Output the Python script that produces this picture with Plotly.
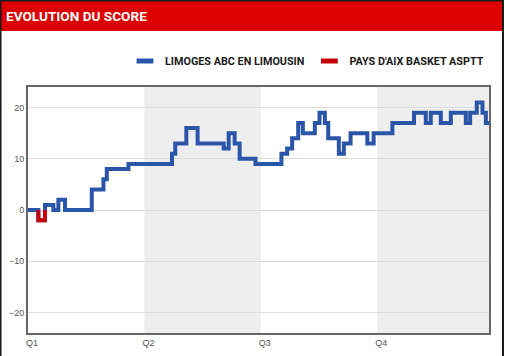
import plotly.graph_objects as go

# ---- data ----
change_times = [0, 0.89, 1.46, 2.18, 2.61, 3.18, 5.48, 6.48, 6.77, 8.63,
                12.37, 12.65, 13.60, 14.57, 16.81, 17.24, 17.75, 18.18, 19.54,
                21.77, 22.26, 22.69, 23.21, 23.61, 24.64, 25.04, 25.50, 25.79,
                26.70, 27.13, 27.71, 29.15, 29.69, 31.30, 33.16, 34.17, 34.60,
                35.46, 36.32, 37.61, 37.98, 38.55, 39.04, 39.33]
score_diff = [0, -2, 1, 0, 2, 0, 4, 6, 8, 9,
              11, 13, 16, 13, 12, 15, 13, 10, 9,
              11, 12, 14, 17, 15, 17, 19, 17, 14,
              11, 13, 15, 13, 15, 17, 19, 17, 19,
              17, 19, 17, 19, 21, 19, 17]
end_time = 39.6
quarter_starts = [0, 10, 20, 30]
quarter_labels = ["Q1", "Q2", "Q3", "Q4"]
shaded_quarters = [(10, 20), (30, 39.6)]
y_ticks = [-20, -10, 0, 10, 20]
team_home = "LIMOGES ABC EN LIMOUSIN"
team_away = "PAYS D'AIX BASKET ASPTT"

BLUE = "#2a55a8"
RED = "#c4000b"

# ---- build step path ----
px, py = [], []
for i, (t, s) in enumerate(zip(change_times, score_diff)):
    if i > 0:
        px.append(t); py.append(score_diff[i - 1])
    px.append(t); py.append(s)
px.append(end_time); py.append(score_diff[-1])

red_x, red_y = [], []
prev_in = False
for i in range(len(px) - 1):
    x0, y0, x1, y1 = px[i], py[i], px[i + 1], py[i + 1]
    if min(y0, y1) < 0:
        if not prev_in:
            red_x.append(x0); red_y.append(min(y0, 0))
        red_x.append(x1); red_y.append(min(y1, 0))
        prev_in = True
    else:
        if prev_in:
            red_x.append(None); red_y.append(None)
        prev_in = False

fig = go.Figure()
fig.add_trace(go.Scatter(x=px, y=py, mode="lines", line=dict(color=BLUE, width=4),
                         showlegend=False, hoverinfo="skip"))
fig.add_trace(go.Scatter(x=red_x, y=red_y, mode="lines", line=dict(color=RED, width=4),
                         showlegend=False, hoverinfo="skip"))
for name, col in [(team_home, BLUE), (team_away, RED)]:
    fig.add_trace(go.Scatter(x=[None], y=[None], mode="markers", name=name,
                             marker=dict(symbol="line-ew", size=12, color=col,
                                         line=dict(color=col, width=5))))

W, H = 505, 356
L, R, T, B = 28, 16, 87, 23
pw, ph = W - L - R, H - T - B

def xp(pix):
    return (pix - L) / pw

def yp(pix):
    return (H - B - pix) / ph

shapes = []
for a, b in shaded_quarters:
    shapes.append(dict(type="rect", xref="x", yref="paper", x0=a, x1=b, y0=0, y1=1,
                       fillcolor="#eeeeee", line=dict(width=0), layer="below"))
shapes.append(dict(type="rect", xref="paper", yref="paper", x0=xp(0), x1=xp(503),
                   y0=yp(31), y1=yp(0), fillcolor="#dd0000", line=dict(width=0), layer="below"))
shapes.append(dict(type="path", xref="paper", yref="paper",
                   path=f"M {xp(0.5)},{yp(360)} L {xp(0.5)},{yp(0.5)} L {xp(503)},{yp(0.5)} L {xp(503)},{yp(360)}",
                   line=dict(color="#1a1a1a", width=2)))

head = "Roboto, Liberation Sans, Arial, sans-serif"
small = "Liberation Sans, Arial, sans-serif"

fig.update_layout(
    width=W, height=H, autosize=False,
    margin=dict(l=L, r=R, t=T, b=B, pad=0),
    paper_bgcolor="white", plot_bgcolor="white",
    title=dict(text="EVOLUTION DU SCORE", x=6 / W, xanchor="left", xref="container",
               y=1 - 16 / H, yanchor="middle", yref="container",
               font=dict(family=head, size=13.6, color="white", weight="bold")),
    shapes=shapes,
    showlegend=True,
    legend=dict(orientation="h", x=1, xanchor="right", y=yp(61), yanchor="middle",
                font=dict(family=head, size=10.8, color="#1a1a1a", weight="bold"),
                bgcolor="rgba(0,0,0,0)", itemwidth=30, tracegroupgap=0),
    xaxis=dict(range=[0, end_time], tickvals=quarter_starts, ticktext=quarter_labels,
               ticklabelposition="outside right", ticklabelshift=-3, showgrid=False, zeroline=False,
               showline=True, mirror=True, linecolor="#666666", linewidth=2, automargin=False,
               ticks="", tickfont=dict(family=small, size=9, color="#555555")),
    yaxis=dict(range=[-24, 24], tickvals=y_ticks, showgrid=True, gridcolor="#dddddd", gridwidth=1,
               zeroline=False, showline=True, mirror=True, linecolor="#666666", linewidth=2,
               automargin=False,
               ticks="", tickfont=dict(family=small, size=9, color="#555555")),
)

fig.write_html("out.html", config={"displayModeBar": False},
               post_script="document.body.style.margin='0';")
